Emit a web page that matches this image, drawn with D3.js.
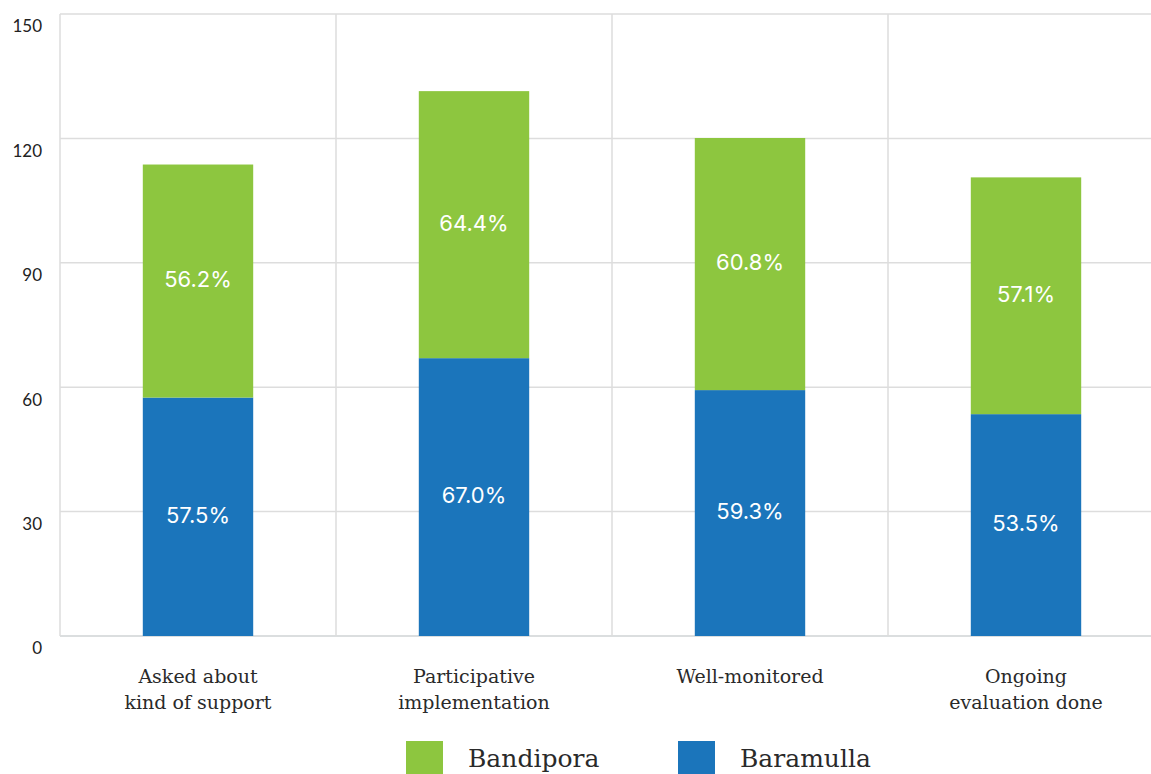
<!DOCTYPE html>
<html>
<head>
<meta charset="utf-8">
<script src="https://cdn.jsdelivr.net/npm/d3@7"></script>
<style>
  html, body { margin: 0; padding: 0; background: #fff; }
  svg { display: block; }
</style>
</head>
<body>
<svg id="chart" width="1151" height="774"></svg>
<script>
// Stacked bar data: share of respondents per district
const categories = [
  ["Asked about", "kind of support"],
  ["Participative", "implementation"],
  ["Well-monitored"],
  ["Ongoing", "evaluation done"]
];
const baramulla = [57.5, 67.0, 59.3, 53.5];
const bandipora = [56.2, 64.4, 60.8, 57.1];
const yTicks = [0, 30, 60, 90, 120, 150];
const seriesNames = ["Bandipora", "Baramulla"];
const seriesColors = { Bandipora: "#8dc63f", Baramulla: "#1b75bb" };

const svg = d3.select("#chart");
const margin = { left: 60, top: 14, bottom: 138 };
const plotW = 1104;
const plotH = 774 - margin.top - margin.bottom;

const g = svg.append("g").attr("transform", `translate(${margin.left},${margin.top})`);

const x = d3.scaleBand()
  .domain(d3.range(categories.length))
  .range([0, plotW])
  .paddingInner(0.6)
  .paddingOuter(0.3);

const y = d3.scaleLinear().domain([0, 150]).range([plotH, 0]);

// horizontal gridlines
g.selectAll(".hgrid").data(yTicks).join("line")
  .attr("x1", 0).attr("x2", plotW + 10)
  .attr("y1", d => y(d)).attr("y2", d => y(d))
  .attr("stroke", d => d === 0 ? "#cfd3d4" : "#dddddd")
  .attr("stroke-width", 1.5);

// vertical separators between categories
const step = x.step();
g.selectAll(".vgrid").data(d3.range(categories.length)).join("line")
  .attr("x1", d => x(d) - x.paddingOuter() * step)
  .attr("x2", d => x(d) - x.paddingOuter() * step)
  .attr("y1", 0).attr("y2", plotH)
  .attr("stroke", "#dddddd")
  .attr("stroke-width", 1.5);

// y tick labels, set just under each gridline
g.selectAll(".ytick").data(yTicks).join("text")
  .attr("x", -18)
  .attr("y", d => y(d) + 14)
  .attr("text-anchor", "end")
  .attr("dominant-baseline", "middle")
  .attr("font-family", "Lato, 'Noto Sans', sans-serif")
  .attr("font-size", 17)
  .attr("fill", "#222")
  .text(d => d);

// stacked bars
const stackData = categories.map((c, i) => ({ i, Baramulla: baramulla[i], Bandipora: bandipora[i] }));
const stack = d3.stack().keys(["Baramulla", "Bandipora"]);
const layers = stack(stackData);

const layerG = g.selectAll(".layer").data(layers).join("g")
  .attr("fill", d => seriesColors[d.key]);

layerG.selectAll("rect").data(d => d).join("rect")
  .attr("x", d => x(d.data.i))
  .attr("width", x.bandwidth())
  .attr("y", d => y(d[1]))
  .attr("height", d => y(d[0]) - y(d[1]));

layerG.selectAll("text").data(d => d.map(v => ({ v, key: d.key }))).join("text")
  .attr("x", d => x(d.v.data.i) + x.bandwidth() / 2)
  .attr("y", d => (y(d.v[0]) + y(d.v[1])) / 2)
  .attr("text-anchor", "middle")
  .attr("dominant-baseline", "middle")
  .attr("font-family", "Inter, 'Open Sans', sans-serif")
  .attr("font-size", 22)
  .attr("fill", "#ffffff")
  .text(d => d.v.data[d.key].toFixed(1) + "%");

// category labels
const catG = g.selectAll(".cat").data(categories).join("text")
  .attr("text-anchor", "middle")
  .attr("font-family", "'DejaVu Serif', serif")
  .attr("font-size", 19)
  .attr("fill", "#2a2a2a")
  .attr("transform", (d, i) => `translate(${x(i) + x.bandwidth() / 2},${plotH + 47})`);
catG.selectAll("tspan").data(d => d).join("tspan")
  .attr("x", 0)
  .attr("dy", (d, j) => j === 0 ? 0 : 26)
  .text(d => d);

// legend
const legend = svg.append("g").attr("transform", "translate(406,741)");
const legItems = legend.selectAll("g").data(seriesNames).join("g")
  .attr("transform", (d, i) => `translate(${i * 272},0)`);
legItems.append("rect")
  .attr("width", 37).attr("height", 36)
  .attr("fill", d => seriesColors[d]);
legItems.append("text")
  .attr("x", 62).attr("y", 26)
  .attr("font-family", "'DejaVu Serif', serif")
  .attr("font-size", 25)
  .attr("fill", "#2a2a2a")
  .text(d => d);
</script>
</body>
</html>
